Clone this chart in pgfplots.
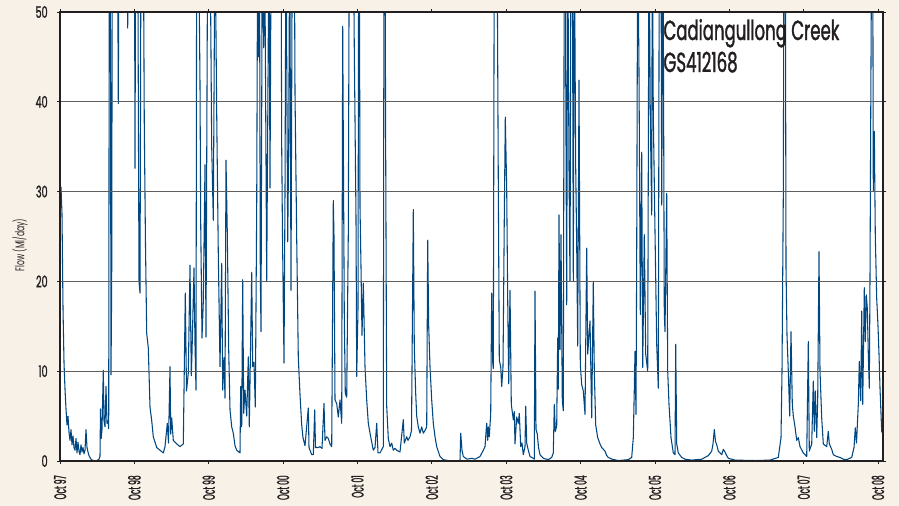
\documentclass[border=0pt]{standalone}
\usepackage{pgfplots}
\pgfplotsset{compat=1.18}
\usepackage{fontspec}
\setmainfont{Poppins}[FakeStretch=0.6]
\newfontfamily\heavy{Poppins}[FakeStretch=0.6, FakeBold=1.2]
\newfontfamily\narrowheavy{Poppins}[FakeStretch=0.45, FakeBold=1.2]
\usetikzlibrary{backgrounds}
\definecolor{bgc}{RGB}{248,241,231}
\definecolor{flowc}{RGB}{0,70,128}
\definecolor{gridc}{RGB}{95,95,95}
\definecolor{axc}{RGB}{35,31,32}
\begin{document}
\begin{tikzpicture}
\begin{axis}[
    at={(0,0)}, anchor=south west,
    scale only axis, width=617.25pt, height=336.75pt,
    xmin=0, xmax=823, ymin=0, ymax=50,
    axis background/.style={fill=white},
    axis line style={line width=1.5pt, draw=axc},
    axis on top,
    xtick={0,74.36,148.73,223.09,297.45,371.82,446.18,520.55,594.91,669.27,743.64,818},
    xticklabels={Oct 97,Oct 98,Oct 99,Oct 00,Oct 01,Oct 02,Oct 03,Oct 04,Oct 05,Oct 06,Oct 07,Oct 08},
    ytick={0,10,20,30,40,50},
    tick align=outside, major tick length=2.25pt,
    tick style={draw=axc, line width=0.6pt},
    ymajorgrids, grid style={draw=gridc, line width=0.8pt},
    /pgf/number format/assume math mode=true,
    yticklabel style={text=axc, font=\heavy\fontsize{12}{12}\selectfont},
    xticklabel style={rotate=90, anchor=east, text=axc, font=\narrowheavy\fontsize{12.5}{12.5}\selectfont},
    xticklabel shift=5pt,
    yticklabel shift=3.5pt,
    ylabel={Flow (Ml/day)},
    ylabel style={at={(ticklabel cs:0.481)}, font=\fontsize{9.5}{9.5}\selectfont, text=axc},
    ylabel shift=-1pt,
]
\addplot[flowc, line width=0.8pt, line join=round] coordinates {
(0,27) (1,30.5) (2,27.5) (3,17) (4,11) (5,8) (6,5.8) (7,4.0) (8,5.0) (9,3.2) (10,2.3) (11,3.5) (12,1.8) (13,2.8) (14,1.5) (15,1.2) (16,2.5) (17,0.9) (18,2.1) (19,1.1) (20,0.7) (21,1.8) (22,1.0) (23,1.5) (24,0.8) (25,1.2) (26,3.5) (27,1.5) (28,1.0) (29,0.6) (30,0.4) (31,0.2) (32,0.1) (34,0.05) (37,0.05) (39,0.2) (40,0.5) (40.5,5.8) (41.2,2.5) (42,3.5) (43.3,10.1) (44,4.5) (45,3.8) (46,8.3) (47,4.2) (48,4.5) (48.7,3.6)
(49.3,60) (50.3,60) (51,9.6) (51.7,20) (52.3,60) (57.5,60) (58.3,39.8) (59,60) (67.3,60) (67.7,48.2) (68.2,60) (74.5,60) (75,32.6) (75.7,60) (77.7,60) (79,20) (80,18.7) (81,60) (83.3,60) (84.3,37.2) (85.5,24) (86.7,14.2) (88.3,12.6) (90,6) (91.7,4.5) (93.3,2.7) (96.7,1.5) (100,1.2) (103.3,0.9) (105,1.6) (107.3,4.2) (108.5,2) (110,10.5) (110.7,3) (111.7,4.8) (113.3,2.3) (116.7,1.9) (120,1.6) (123.3,1.9) (125.3,18.7) (126.5,7.8) (128.3,9.8) (130,21.8) (131.3,9.5) (132,12) (134,21.5) (135,13) (136,7.9) (136.7,60) (138.5,60) (140,42) (140.7,26.5) (142,13.7) (143.3,17.7) (145,33) (146,13.8) (147.7,60) (150,60) (151.7,35) (153.3,26.8) (155,60) (156.7,38.7) (158.3,23) (160,10.5) (161.7,22) (162.7,7.9) (164,11.5) (165,7) (166,33.5) (167.3,25.4) (168.7,12.4) (170,5.7) (171.7,3.8) (173.3,3.1) (175,1.7) (176.7,1.2) (180,0.9) (180.7,8.3) (181.7,3.8) (182.7,20.2) (183.7,5.3) (185,7.9) (186.7,5) (188.3,11.6) (189.3,3.8) (191.7,21) (192.7,10.5) (194,11) (195.3,6) (196.7,28.3) (197.7,60)
(198.3,45) (199,60) (199.7,48) (200.3,21) (201,14.4) (202.3,60) (203.7,46) (204.5,60) (205.3,47) (206.7,20) (208.3,47.4) (209,60) (210,30.4) (211.2,60) (216.3,60) (217,50) (217.6,60) (221,60) (221.7,35) (222.5,25) (224,10.9) (225,30) (226,60) (227.7,24.4) (228.7,35) (229.7,60) (231,19) (232.3,60) (234.3,60) (235,41) (236.7,24.8) (238.3,11.5) (240,7.4)
(241.7,4) (243,2.6) (245,1.7) (248.3,5.9) (249,1.5) (251.7,0.7) (253.3,0.7) (254.7,5.7) (255.5,1.5) (258.3,1.5) (260,1.6) (262,1.4) (264,6.4) (265,2.3) (266.7,2.7) (268.3,2.5) (270,1.9) (271.7,1.6) (273.3,29) (274,25) (275,6.8) (276.7,6.4) (278.3,4.9) (280,6.8) (281.7,4.2) (282.7,48.4) (283.7,28) (284.3,16) (285.3,7.5) (286.7,7.1) (288.3,25.4) (289.3,60) (293.3,60) (294.3,45.8) (296,27) (296.7,9.4) (298,17) (298.7,60) (299.3,60) (300,28.3) (301,21.6) (302,14) (303.3,19.8) (305,10.5) (306.7,6.8) (308.3,4.2) (310,3.1) (313.3,1.2) (315,1.5) (316.7,4.2) (318,0.9) (320,0.9) (323.3,1.6) (324,60) (325,60) (325.7,33.9) (326.7,6.1) (328.3,2.5) (330,1.6) (331.7,2) (333.3,1.2) (335,1.4) (336.7,1.2) (340,1.0) (343.3,4.6) (344.3,2) (346.7,2.7) (348,2.3) (350,2.7) (351.5,3.4) (353.3,28) (354.3,12.7) (355.7,7.5) (356.7,5) (358.3,3.8) (360,3.1) (361.7,3.8) (363.3,3.1) (365,3.4) (366.7,3.8) (367.7,24.6) (368.7,15) (370,10.5) (371.7,6.8) (373.3,4.2) (375,2.7) (376.7,1.6) (380,0.5) (383.3,0.15) (388,0.05) (395,0.02) (400,0.05) (400.7,3.1) (402,1.2) (403.3,0.5) (407,0.2) (411.7,0.3) (415,0.2) (420,0.5) (423.3,1.2) (425,1.6) (426.7,4.2) (427.7,2.3) (428.3,3.8) (429.3,2.7) (430.7,5.3) (431.7,18.7) (432.7,11) (433.3,10.3) (434.3,60) (437,60) (438.3,30.9) (439.3,11.2) (440.7,10.5) (441.7,8.3) (443,10.5) (444.3,27.2) (445.3,38.3) (446.7,30.2) (447.7,18) (448.7,8.6) (450,19) (451.3,6.3) (453.3,4.6) (454.3,5.5) (455,1.9) (456.7,4.9) (458.3,4.2) (459.3,5.3) (460.7,1.6) (462,2) (463.3,0.7) (465,1.6) (465.7,6.1) (466.7,2) (468.3,1.2) (470,0.5) (473.3,0.3) (474.3,0.2) (475,18.9) (476,3.5) (477.3,3) (478.5,1.5) (480,0.7) (483.3,0.3) (488.3,0.15) (491.7,0.4) (493.3,0.9) (494.3,6.3) (495.3,3.3) (496.7,3.9) (497.7,13.7) (498.3,8) (499,27.4) (500,12.4) (501,25.2) (502.3,6.7) (503.3,5.6) (504.3,60) (505.3,60) (505.7,43.7) (506.7,17.4) (507.7,60) (509,32.6) (510,20) (511,60) (512.3,60) (513.3,20) (514.3,60) (515.7,32.6) (516.7,24) (517.7,12.8) (519,42.4) (520.3,10.7) (521.7,8.5) (523.3,7.8) (525,5.2) (526.7,23.7) (527.7,11.9) (530,15.6) (531.7,4.8) (533.3,20) (534.3,10) (535.7,4) (537.7,2.6) (540,1.9) (541.7,1.5) (545,1.1) (546.7,0.6) (548.3,0.4) (552,0.2) (558.3,0.05) (568.3,0.15) (571.7,0.4) (573.3,2.6) (574.3,8) (575,12.2) (576,5.2) (576.7,23.3) (577.7,60) (579,43.3) (580.3,16.3) (581.7,34.4) (582.7,10.4) (584.3,25.2) (585.7,11.9) (587.7,10) (589,60) (590.3,38.1) (591.7,27.4) (592.3,60) (593.3,38.5) (595,25.5) (596.7,13) (598.3,8.1) (599.3,60) (601,60) (601.7,28.5) (603,60) (604.3,16.3) (605,14.4) (606.7,29.8) (607.7,10) (609,6.3) (611,2.6) (613.3,0.9) (615,0.7) (615.7,13) (616.7,1.9) (618.3,0.9) (621.7,0.4) (625,0.2) (631.7,0.1) (641.7,0.2) (645,0.4) (648.3,0.6) (651.7,1.1) (653,1.9) (654.3,3.5) (655.5,2.2) (657,1.7) (658.3,1.1) (660,0.9) (661.7,0.7) (663.3,1.3) (665,1.0) (666.7,0.6) (668.3,0.3) (675,0.1) (695,0.05) (710,0.1) (718.3,0.4) (721,2.6) (722,10) (723.3,29.6) (724,60) (725.3,60) (726,21.5) (727,14) (728.3,10) (729.7,5) (731,14.4) (732.3,6.3) (733.3,5) (735,3.8) (736.7,2.3) (738.3,2.6) (740,1.6) (743.3,0.9) (746.7,0.5) (748.3,13.3) (749.3,1.1) (751.7,1.9) (753.3,8.9) (754.3,3.3) (755.3,7.8) (756.7,2.6) (757.7,7) (759,23.3) (760,10) (761.7,4.8) (763.3,1.9) (766.7,1.6) (768.3,3.3) (769.3,1.9) (771.7,1.3) (773.3,0.7) (776.7,0.5) (780,0.4) (783.3,0.2) (786.7,0.15) (791.7,0.4) (794,1.5) (795.3,3.7) (796.5,2) (798.3,6.3) (799.3,11.1) (800.7,6.7) (801.7,16.7) (802.7,6.3) (803.3,11.1) (804.3,19.3) (805.3,13.3) (806.3,18.5) (807.3,17) (808.3,11.9) (809.3,8.1) (810,20.4) (810.7,38) (811.7,60) (812.7,60) (813.3,30) (814.3,36.7) (815.3,25) (816.7,18.1) (818,15) (819,11.9) (820,8.1) (821.7,3.3) (823,3)
};
\node[anchor=north west, align=left, inner sep=0pt, text=axc,
      font=\heavy\fontsize{20.7}{24}\selectfont] at (rel axis cs:0.733,0.985)
      {Cadiangullong Creek\\GS412168};
\end{axis}
\begin{scope}[on background layer]
\fill[bgc] (-45pt,-33.75pt) rectangle (629.25pt,345.75pt);
\end{scope}
\pgfresetboundingbox
\path[use as bounding box] (-45pt,-33.75pt) rectangle (629.25pt,345.75pt);
\end{tikzpicture}
\end{document}
